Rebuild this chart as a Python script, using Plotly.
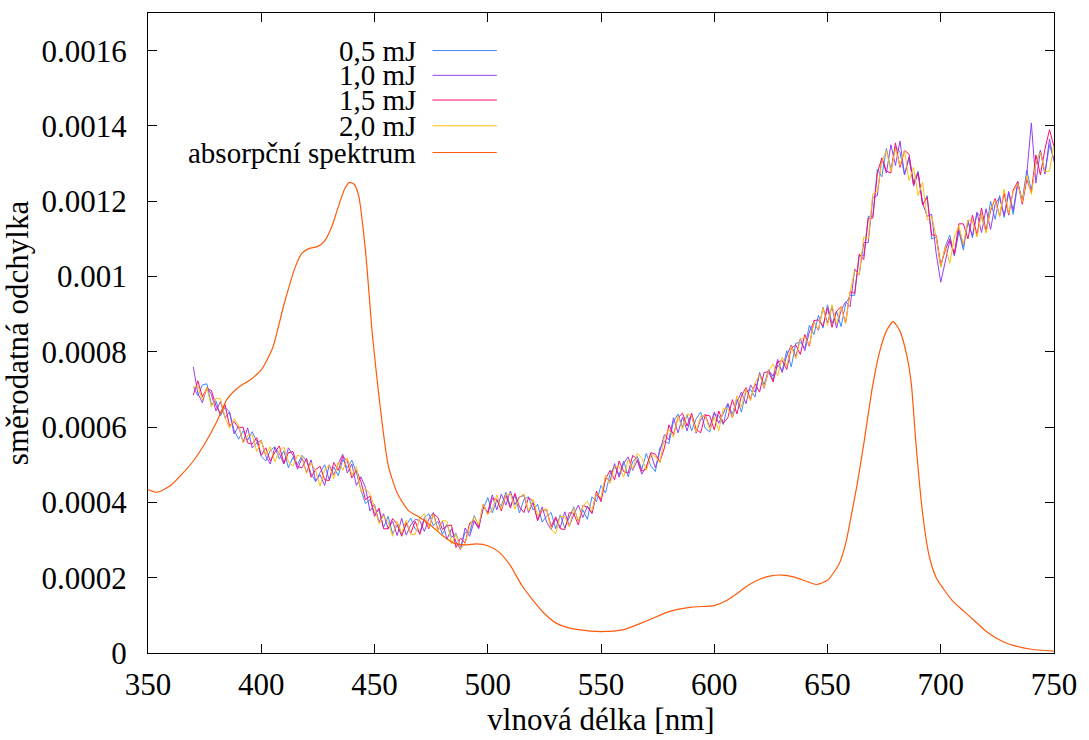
import plotly.graph_objects as go

# wavelength grid of the measured standard-deviation spectra [nm]
wavelengths = list(range(370, 752, 2))

# standard deviation values, in units of 1e-6
std_05mJ = [
    708, 683, 712, 715, 660, 670, 630, 653, 640, 592,
    568, 590, 565, 588, 562, 522, 510, 538, 548, 515,
    537, 492, 520, 500, 525, 510, 477, 455, 480, 500,
    460, 494, 471, 514, 492, 512, 480, 433, 397, 407,
    370, 380, 333, 363, 317, 340, 315, 340, 358, 329,
    320, 360, 370, 338, 350, 315, 342, 307, 318, 280,
    320, 319, 365, 337, 382, 413, 372, 406, 390, 427,
    390, 420, 372, 408, 415, 380, 395, 348, 363, 373,
    330, 367, 332, 361, 388, 350, 380, 355, 415, 402,
    445, 425, 475, 497, 473, 510, 468, 508, 522, 488,
    530, 497, 482, 545, 563, 556, 615, 635, 600, 633,
    590, 622, 640, 597, 587, 635, 630, 607, 660, 635,
    675, 640, 695, 700, 680, 745, 713, 753, 725, 765,
    750, 803, 760, 823, 825, 810, 871, 846, 897, 863,
    925, 875, 908, 867, 927, 950, 950, 1055, 1055, 1160,
    1160, 1285, 1265, 1340, 1285, 1345, 1330, 1270, 1318, 1250,
    1280, 1190, 1215, 1100, 1105, 1025, 1080, 1110, 1055, 1120,
    1070, 1150, 1103, 1170, 1157, 1120, 1200, 1152, 1215, 1157,
    1223, 1165, 1247, 1202, 1283, 1228, 1298, 1335, 1273, 1350,
    1310,
]
std_10mJ = [
    760, 690, 665, 705, 687, 643, 668, 625, 640, 582,
    602, 560, 598, 545, 558, 565, 523, 502, 546, 530,
    502, 545, 525, 488, 518, 480, 513, 457, 473, 445,
    500, 473, 503, 528, 478, 502, 445, 468, 440, 377,
    395, 348, 370, 330, 350, 312, 358, 313, 340, 355,
    352, 323, 356, 373, 327, 350, 302, 330, 295, 275,
    332, 310, 350, 330, 388, 375, 420, 380, 422, 393,
    430, 394, 415, 418, 373, 400, 352, 388, 348, 328,
    357, 333, 375, 337, 368, 393, 360, 390, 370, 422,
    408, 465, 457, 503, 467, 504, 521, 485, 512, 475,
    495, 529, 492, 538, 580, 566, 625, 585, 627, 590,
    633, 584, 620, 634, 600, 640, 610, 637, 663, 625,
    667, 693, 662, 712, 693, 743, 703, 750, 735, 780,
    745, 790, 818, 788, 835, 803, 853, 880, 857, 918,
    877, 920, 863, 910, 933, 920, 1020, 1005, 1090, 1090,
    1210, 1215, 1315, 1275, 1350, 1295, 1360, 1270, 1315, 1240,
    1275, 1195, 1160, 1165, 1060, 985, 1040, 1095, 1057, 1125,
    1080, 1145, 1108, 1170, 1117, 1180, 1125, 1192, 1210, 1162,
    1226, 1175, 1252, 1197, 1273, 1408, 1248, 1335, 1273, 1365,
    1305,
]
std_15mJ = [
    685, 723, 680, 703, 697, 657, 635, 660, 603, 615,
    598, 600, 558, 555, 572, 525, 545, 510, 533, 550,
    504, 532, 535, 495, 492, 517, 467, 487, 496, 460,
    458, 506, 485, 522, 510, 465, 485, 456, 407, 417,
    363, 385, 330, 330, 357, 342, 310, 346, 318, 350,
    315, 355, 330, 370, 360, 328, 338, 340, 280, 305,
    292, 345, 352, 333, 395, 370, 410, 408, 377, 420,
    385, 424, 388, 373, 413, 403, 352, 380, 380, 336,
    362, 330, 328, 373, 370, 340, 392, 387, 372, 430,
    402, 462, 485, 460, 510, 482, 478, 525, 514, 483,
    490, 532, 528, 508, 545, 606, 580, 625, 637, 603,
    637, 594, 585, 632, 630, 593, 643, 610, 625, 673,
    635, 683, 705, 674, 715, 693, 745, 747, 720, 773,
    777, 753, 810, 818, 793, 846, 815, 883, 885, 868,
    917, 865, 908, 920, 877, 960, 955, 1060, 1045, 1155,
    1155, 1275, 1315, 1280, 1275, 1355, 1290, 1335, 1325, 1245,
    1275, 1190, 1210, 1110, 1110, 1030, 1070, 1100, 1060, 1140,
    1140, 1100, 1163, 1110, 1182, 1120, 1175, 1207, 1160, 1222,
    1163, 1230, 1252, 1192, 1258, 1223, 1323, 1270, 1338, 1390,
    1345,
]
std_20mJ = [
    705, 710, 672, 705, 653, 677, 675, 625, 597, 622,
    605, 558, 578, 580, 535, 565, 525, 548, 508, 537,
    547, 508, 497, 525, 522, 477, 505, 485, 443, 488,
    498, 463, 507, 485, 518, 472, 495, 428, 437, 423,
    390, 342, 365, 348, 310, 350, 318, 353, 315, 315,
    358, 370, 333, 368, 323, 352, 350, 290, 315, 277,
    290, 337, 362, 340, 395, 367, 382, 420, 382, 420,
    423, 382, 412, 423, 377, 408, 365, 380, 383, 328,
    317, 363, 362, 335, 385, 350, 390, 403, 378, 425,
    412, 472, 450, 495, 495, 467, 514, 488, 530, 518,
    485, 525, 522, 505, 575, 593, 573, 630, 594, 635,
    630, 587, 630, 630, 593, 627, 590, 650, 650, 625,
    683, 653, 700, 670, 717, 740, 705, 750, 767, 737,
    785, 763, 815, 781, 833, 840, 818, 878, 860, 916,
    870, 925, 873, 920, 875, 960, 1015, 1005, 1105, 1100,
    1220, 1225, 1305, 1335, 1280, 1340, 1295, 1335, 1255, 1290,
    1215, 1250, 1150, 1160, 1105, 1025, 1080, 1035, 1105, 1135,
    1085, 1150, 1148, 1105, 1167, 1115, 1180, 1202, 1160, 1232,
    1168, 1225, 1247, 1197, 1268, 1218, 1303, 1330, 1278, 1280,
    1350,
]

# absorption spectrum (scaled), wavelength [nm] and value in units of 1e-6
abs_wl = [350, 354, 360, 365, 370, 375, 380, 385, 390, 395, 400, 405, 410, 415,
          418, 421, 425, 428, 431, 434, 437, 439, 441, 443, 446, 449, 452, 456,
          460, 465, 470, 475, 480, 485, 490, 495, 500, 505, 510, 515, 520, 525,
          530, 535, 540, 550, 560, 570, 580, 590, 600, 605, 610, 615, 620, 625,
          630, 635, 640, 645, 650, 655, 658, 660, 663, 666, 670, 673, 676, 679,
          682, 685, 687, 689, 692, 695, 698, 701, 705, 710, 715, 720, 725, 730,
          740, 750]
abs_val = [434, 427, 445, 475, 510, 555, 610, 675, 706, 725, 752, 810, 925, 1025,
           1062, 1074, 1080, 1095, 1130, 1185, 1235, 1250, 1245, 1215, 1070, 850, 680, 500,
           425, 378, 360, 338, 312, 292, 287, 290, 285, 268, 232, 180, 140, 105,
           80, 68, 62, 57, 62, 85, 110, 122, 126, 138, 158, 180, 196, 205,
           207, 202, 192, 182, 193, 235, 290, 350, 445, 555, 712, 800, 855, 880,
           855, 790, 715, 560, 370, 255, 200, 172, 140, 112, 85, 58, 38, 24,
           10, 5]

names = ["0,5 mJ", "1,0 mJ", "1,5 mJ", "2,0 mJ", "absorpční spektrum"]
colors = ["#3f88ff", "#9540f0", "#ff0a70", "#ffbe10", "#ff5a0a"]

x_ticks = [350, 400, 450, 500, 550, 600, 650, 700, 750]
y_ticks = [0, 0.0002, 0.0004, 0.0006, 0.0008, 0.001, 0.0012, 0.0014, 0.0016]
y_ticktext = ["0", "0.0002", "0.0004", "0.0006", "0.0008", "0.001", "0.0012", "0.0014", "0.0016"]

UNIT = 1e-6
FONT = "Liberation Serif"

fig = go.Figure()
for name, vals, col in zip(names[:4], [std_05mJ, std_10mJ, std_15mJ, std_20mJ], colors[:4]):
    fig.add_trace(go.Scatter(x=wavelengths[:len(vals)], y=[v * UNIT for v in vals],
                             mode="lines", name=name, showlegend=False,
                             line=dict(color=col, width=1)))
fig.add_trace(go.Scatter(x=abs_wl, y=[v * UNIT for v in abs_val], mode="lines",
                         name=names[4], showlegend=False,
                         line=dict(color=colors[4], width=1.2, shape="spline", smoothing=0.6)))

# gnuplot-style key: text right-aligned, line sample to the right
key_y = [0.9413, 0.9026, 0.8640, 0.8238, 0.7820]
for name, col, ky in zip(names, colors, key_y):
    fig.add_annotation(x=0.2976, y=ky, xref="paper", yref="paper", text=name,
                       showarrow=False, xanchor="right", yanchor="middle",
                       font=dict(family=FONT, size=29, color="black"))
    fig.add_shape(type="line", xref="paper", yref="paper", x0=0.314, x1=0.385,
                  y0=ky, y1=ky, line=dict(color=col, width=1))

axis_common = dict(showline=True, linecolor="black", linewidth=1.2, mirror="ticks",
                   ticks="inside", ticklen=9, tickcolor="black", tickwidth=1,
                   showgrid=False, zeroline=False,
                   tickfont=dict(family=FONT, size=31, color="black"))
fig.update_xaxes(range=[350, 750], tickvals=x_ticks, ticklabelstandoff=4,
                 title=dict(text="vlnová délka [nm]", font=dict(family=FONT, size=31, color="black"), standoff=4),
                 **axis_common)
fig.update_yaxes(range=[0, 0.0017], tickvals=y_ticks, ticktext=y_ticktext, ticklabelstandoff=14,
                 title=dict(text="směrodatná odchylka", font=dict(family=FONT, size=31, color="black"), standoff=6),
                 **axis_common)
fig.update_layout(width=1089, height=740, margin=dict(l=148, r=27, t=13, b=80),
                  plot_bgcolor="white", paper_bgcolor="white",
                  font=dict(family=FONT, color="black"))

fig.write_html("out.html", config={"displayModeBar": False},
               post_script="document.body.style.margin='0';")
